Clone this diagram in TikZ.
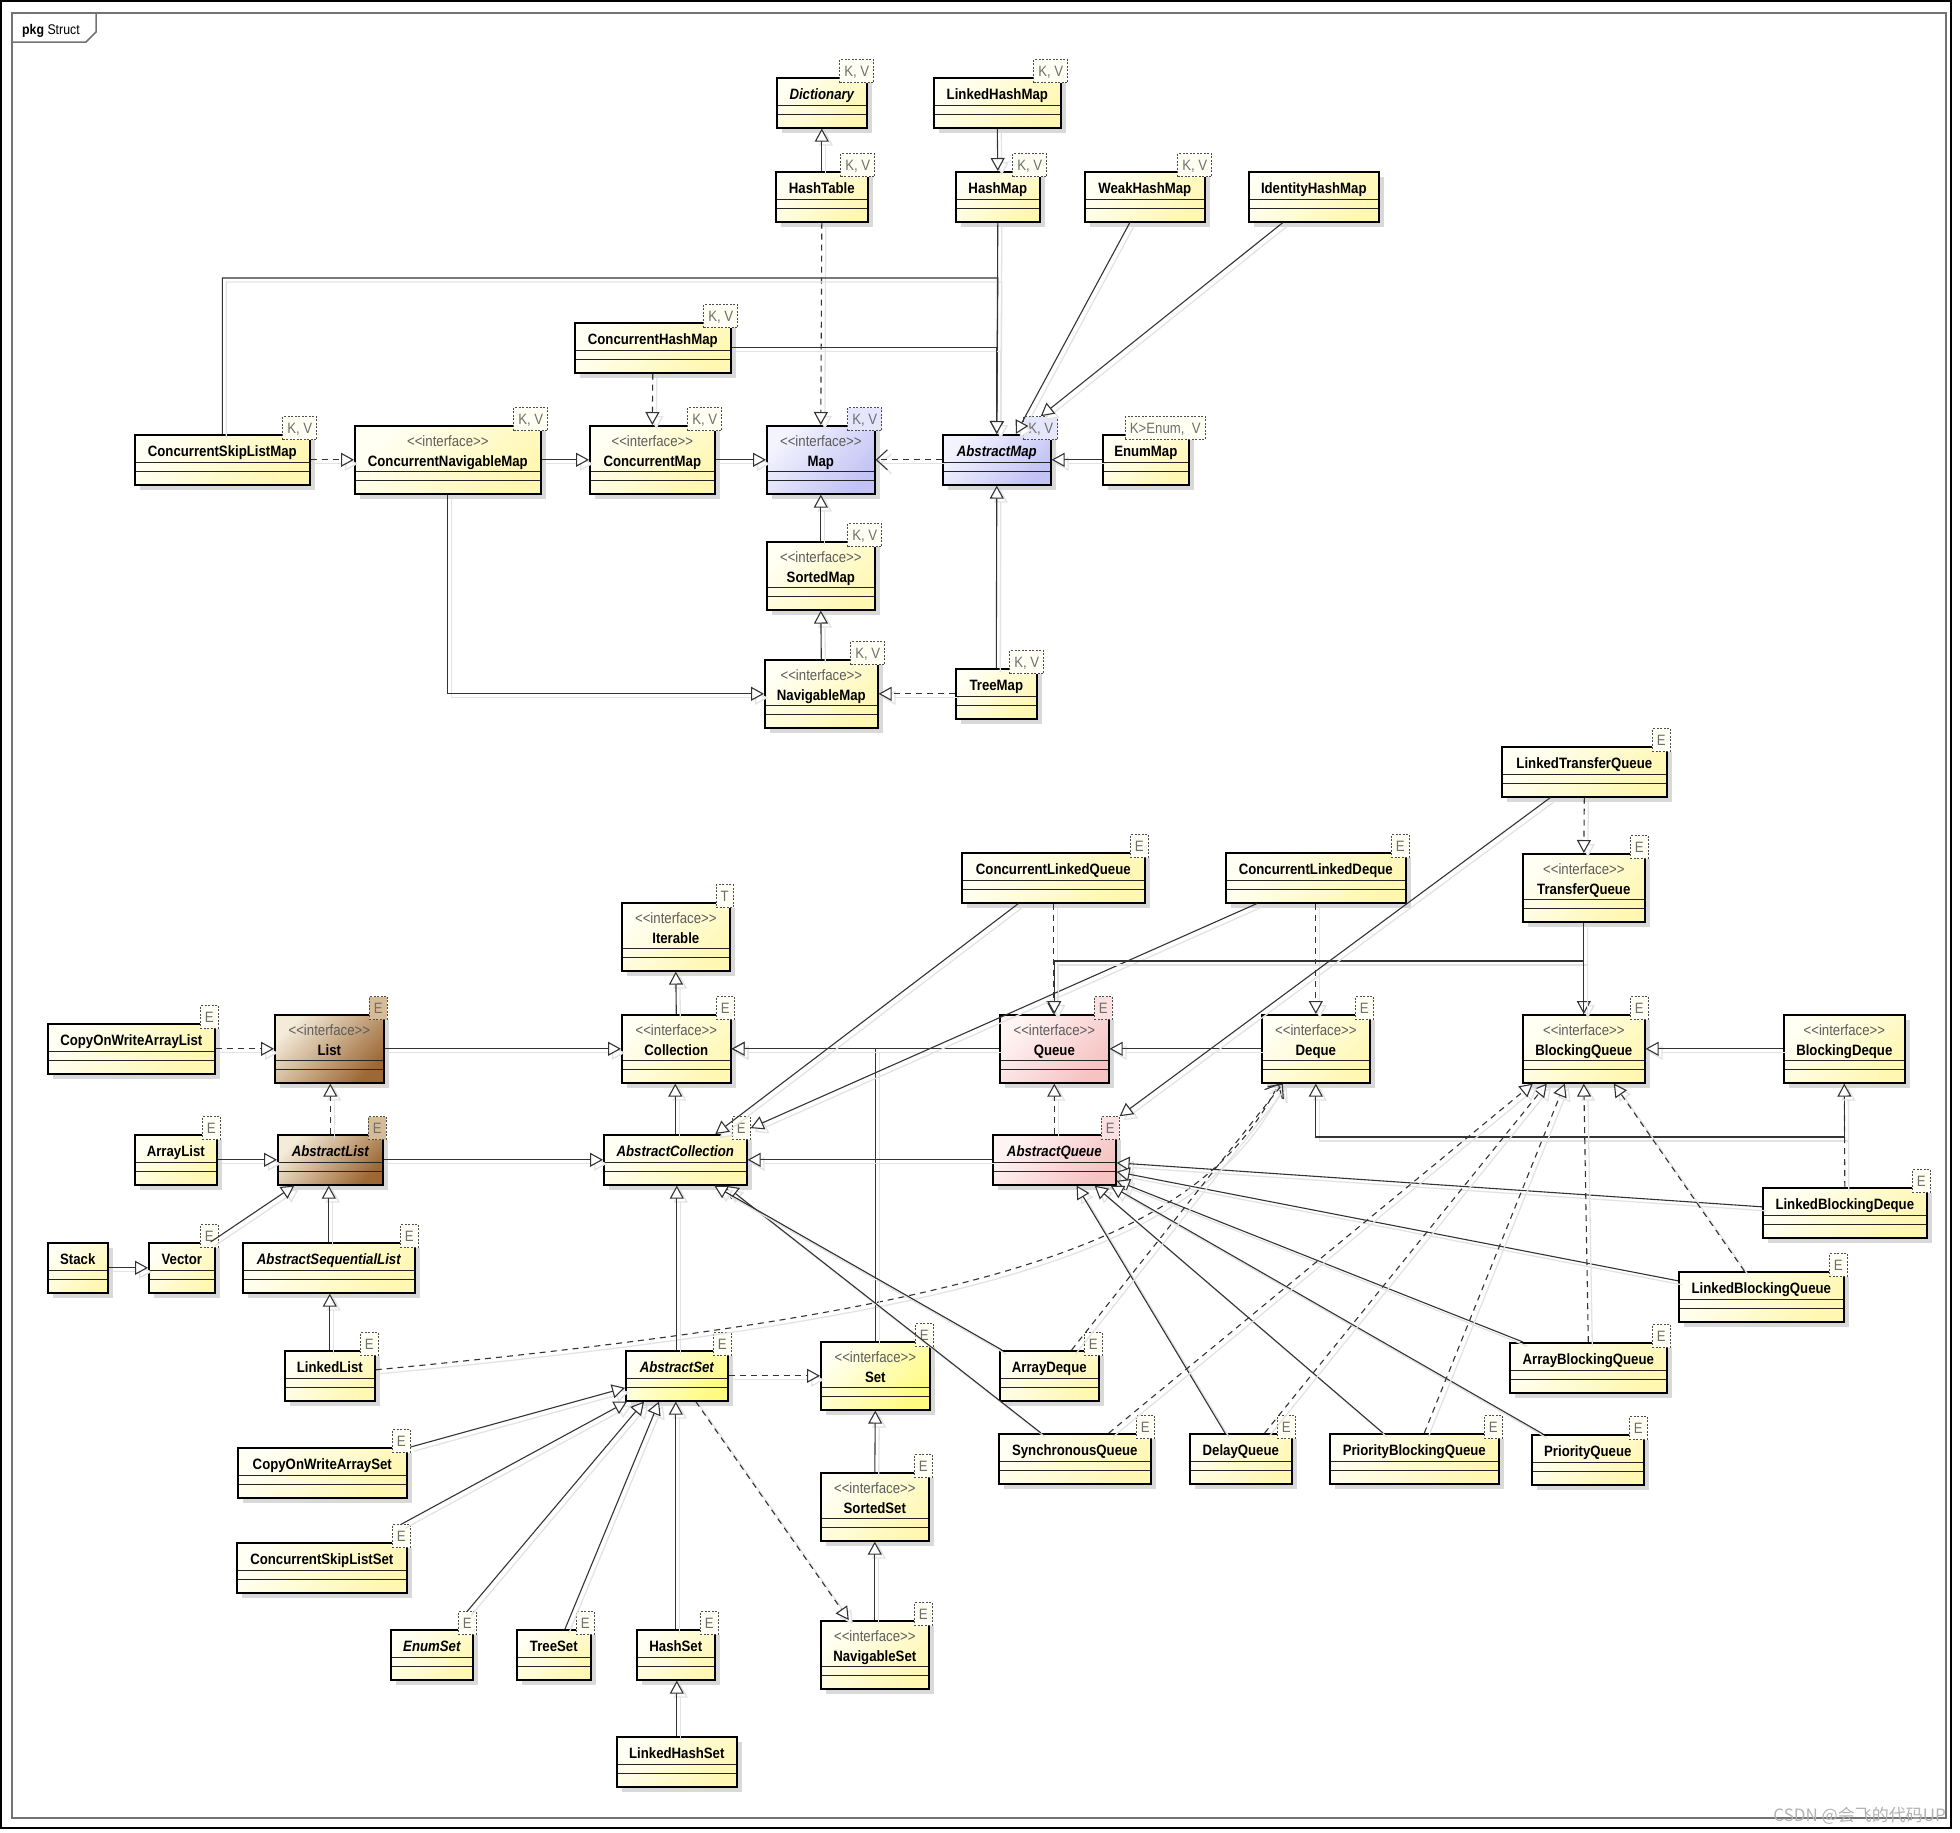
\documentclass[tikz,border=0pt]{standalone}
\usepackage{fontspec}
\newfontfamily\umlfont{Liberation Sans}[FakeStretch=0.88]
\newfontfamily\cjk{Noto Sans CJK SC}
\usepackage{tikz}
\usetikzlibrary{arrows.meta,shadows}
\definecolor{ylo}{HTML}{FFFFF4}
\definecolor{yhi}{HTML}{FFF7B2}
\definecolor{ydeep}{HTML}{FFFB80}
\definecolor{blo}{HTML}{F4F4FF}
\definecolor{bhi}{HTML}{C2C2F5}
\definecolor{plo}{HTML}{FFF4F4}
\definecolor{phi}{HTML}{F6C2C2}
\definecolor{brlo}{HTML}{F4EBD9}
\definecolor{brhi}{HTML}{9C6835}
\definecolor{brtpl}{HTML}{D6BC96}
\definecolor{ink}{HTML}{333333}
\definecolor{stereo}{HTML}{5C5C5C}
\definecolor{tplink}{HTML}{6E6E6E}
\newsavebox\ifbox
\newcommand\iface[1]{\sbox\ifbox{#1}\rlap{\hbox to\wd\ifbox{\hss\raisebox{20pt}{\mdseries\color{stereo}\textless\textless interface\textgreater\textgreater}\hss}}\usebox\ifbox}
\newcommand\tparam[3][]{\node[tpl,#1] (#2-p) at (#2.north east) {#3};}

\begin{document}
\begin{tikzpicture}[x=1pt,y=-1pt,
  cls/.style={rectangle,draw=black,line width=1.6pt,anchor=north west,inner sep=0pt,
    minimum height=50pt,text height=22pt,text depth=28pt,
    font=\umlfont\bfseries\fontsize{15}{18}\selectfont,
    left color=ylo,right color=yhi,shading angle=45,
    drop shadow={fill=black!15,opacity=1,shadow xshift=5pt,shadow yshift=-5pt},
    path picture={\draw[line width=1.1pt,black!85]
      ([yshift=22pt]path picture bounding box.south west) -- ([yshift=22pt]path picture bounding box.south east)
      ([yshift=13pt]path picture bounding box.south west) -- ([yshift=13pt]path picture bounding box.south east);}},
  ifc/.style={cls,minimum height=68pt,text height=41pt,text depth=27pt},
  bluecls/.style={left color=blo,right color=bhi,shading angle=45},
  pinkcls/.style={left color=plo,right color=phi,shading angle=45},
  browncls/.style={left color=brlo,right color=brhi,shading angle=45},
  deepcls/.style={left color=ylo,right color=ydeep,shading angle=45},
  tpl/.style={draw=black!70,dash pattern=on 2pt off 1.5pt,line width=.8pt,fill=ylo,
    anchor=south east,xshift=3pt,yshift=-6pt,inner xsep=4.5pt,inner ysep=0pt,
    text height=17pt,text depth=6pt,font=\umlfont\fontsize{15}{18}\selectfont,text=tplink},
  kv/.style={xshift=3.5pt},
  lsh/.style={preaction={draw=black!11,solid,line width=1.3pt,transform canvas={shift={(4pt,-4pt)}}}},
  gen/.style={lsh,draw=ink,line width=1.1pt,-{Triangle[length=13pt,width=14pt,fill=white]}},
  real/.style={gen,dash pattern=on 6pt off 5pt},
  dep/.style={lsh,draw=ink,line width=1.1pt,dash pattern=on 6pt off 5pt,-{Straight Barb[length=11pt,width=20pt]}}]
\useasboundingbox (0,0) rectangle (1960,1832);
\draw[line width=2.5pt] (1,1) rectangle (1951,1828);
\draw[black!55,line width=1.5pt] (12,13) rectangle (1946,1818);
\draw[black!55,line width=1.5pt] (12,42) -- (86,42) -- (96,32) -- (96,13);
\node[anchor=base west,inner sep=0pt,font=\umlfont\fontsize{14}{16}\selectfont] (pkgtab) at (22,34) {\textbf{pkg} Struct};

% Map hierarchy
\node[cls,minimum width=90pt] (dict) at (776,77) {\itshape Dictionary};
\node[cls,minimum width=127pt] (lhm) at (933,77) {LinkedHashMap};
\node[cls,minimum width=92pt] (htab) at (775,171) {HashTable};
\node[cls,minimum width=84pt] (hmap) at (955,171) {HashMap};
\node[cls,minimum width=120pt] (whm) at (1084,171) {WeakHashMap};
\node[cls,minimum width=130pt] (ihm) at (1248,171) {IdentityHashMap};
\node[cls,minimum width=156pt] (chm) at (574,322) {ConcurrentHashMap};
\node[cls,minimum width=175pt] (cslm) at (134,434) {ConcurrentSkipListMap};
\node[ifc,minimum width=186pt] (cnm) at (354,425) {\iface{ConcurrentNavigableMap}};
\node[ifc,minimum width=125pt] (cmap) at (589,425) {\iface{ConcurrentMap}};
\node[ifc,bluecls,minimum width=108pt] (map) at (766,425) {\iface{Map}};
\node[cls,bluecls,minimum width=108pt] (amap) at (942,434) {\itshape AbstractMap};
\node[cls,minimum width=86pt] (emap) at (1102,434) {EnumMap};
\node[ifc,minimum width=108pt] (smap) at (766,541) {\iface{SortedMap}};
\node[ifc,minimum width=113pt] (nmap) at (764,659) {\iface{NavigableMap}};
\node[cls,minimum width=81pt] (tmap) at (955,668) {TreeMap};
\tparam[kv]{dict}{K, V}
\tparam[kv]{lhm}{K, V}
\tparam[kv]{htab}{K, V}
\tparam[kv]{hmap}{K, V}
\tparam[kv]{whm}{K, V}
\tparam[kv]{chm}{K, V}
\tparam[kv]{cslm}{K, V}
\tparam[kv]{cnm}{K, V}
\tparam[kv]{cmap}{K, V}
\tparam[kv,fill=blo!70!bhi]{map}{K, V}
\tparam[kv,fill=blo!70!bhi]{amap}{K, V}
\tparam[xshift=13pt]{emap}{K>Enum,\ \ V}
\tparam[kv]{smap}{K, V}
\tparam[kv]{nmap}{K, V}
\tparam[kv]{tmap}{K, V}

% Collection, List and Set
\node[ifc,minimum width=108pt] (itbl) at (621,902) {\iface{Iterable}};
\node[ifc,minimum width=109pt] (coll) at (621,1014) {\iface{Collection}};
\node[ifc,browncls,minimum width=109pt] (list) at (274,1014) {\iface{List}};
\node[cls,minimum width=167pt] (cowal) at (47,1023) {CopyOnWriteArrayList};
\node[cls,minimum width=82pt] (alst) at (134,1134) {ArrayList};
\node[cls,browncls,minimum width=105pt] (alist) at (277,1134) {\itshape AbstractList};
\node[cls,minimum width=143pt] (acoll) at (603,1134) {\itshape AbstractCollection};
\node[cls,minimum width=60pt] (stack) at (47,1242) {Stack};
\node[cls,minimum width=66pt] (vect) at (148,1242) {Vector};
\node[cls,minimum width=172pt] (aslist) at (242,1242) {\itshape AbstractSequentialList};
\node[cls,minimum width=90pt] (llist) at (284,1350) {LinkedList};
\node[cls,deepcls,minimum width=102pt] (aset) at (625,1350) {\itshape AbstractSet};
\node[ifc,deepcls,minimum width=109pt] (set) at (820,1341) {\iface{Set}};
\node[ifc,minimum width=108pt] (sset) at (820,1472) {\iface{SortedSet}};
\node[ifc,minimum width=108pt] (nset) at (820,1620) {\iface{NavigableSet}};
\node[cls,minimum width=169pt] (cowas) at (237,1447) {CopyOnWriteArraySet};
\node[cls,minimum width=170pt] (csls) at (236,1542) {ConcurrentSkipListSet};
\node[cls,minimum width=82pt] (eset) at (390,1629) {\itshape EnumSet};
\node[cls,minimum width=74pt] (tset) at (516,1629) {TreeSet};
\node[cls,minimum width=78pt] (hset) at (636,1629) {HashSet};
\node[cls,minimum width=120pt] (lhset) at (616,1736) {LinkedHashSet};
\tparam{itbl}{T}
\tparam{coll}{E}
\tparam[fill=brtpl]{list}{E}
\tparam{cowal}{E}
\tparam{alst}{E}
\tparam[fill=brtpl]{alist}{E}
\tparam{acoll}{E}
\tparam{vect}{E}
\tparam{aslist}{E}
\tparam{llist}{E}
\tparam{aset}{E}
\tparam{set}{E}
\tparam{sset}{E}
\tparam{nset}{E}
\tparam{cowas}{E}
\tparam{csls}{E}
\tparam{eset}{E}
\tparam{tset}{E}
\tparam{hset}{E}

% Queue hierarchy
\node[cls,minimum width=183pt] (clq) at (961,852) {ConcurrentLinkedQueue};
\node[cls,minimum width=180pt] (cld) at (1225,852) {ConcurrentLinkedDeque};
\node[ifc,pinkcls,minimum width=109pt] (queue) at (999,1014) {\iface{Queue}};
\node[ifc,minimum width=108pt] (deque) at (1261,1014) {\iface{Deque}};
\node[cls,pinkcls,minimum width=123pt] (aqueue) at (992,1134) {\itshape AbstractQueue};
\node[cls,minimum width=165pt] (ltq) at (1501,746) {LinkedTransferQueue};
\node[ifc,minimum width=122pt] (tq) at (1522,853) {\iface{TransferQueue}};
\node[ifc,minimum width=122pt] (bq) at (1522,1014) {\iface{BlockingQueue}};
\node[ifc,minimum width=121pt] (bd) at (1783,1014) {\iface{BlockingDeque}};
\node[cls,minimum width=99pt] (adeq) at (999,1350) {ArrayDeque};
\node[cls,minimum width=152pt] (sq) at (998,1433) {SynchronousQueue};
\node[cls,minimum width=102pt] (dq) at (1189,1433) {DelayQueue};
\node[cls,minimum width=169pt] (pbq) at (1329,1433) {PriorityBlockingQueue};
\node[cls,minimum width=112pt] (pq) at (1531,1434) {PriorityQueue};
\node[cls,minimum width=157pt] (abq) at (1509,1342) {ArrayBlockingQueue};
\node[cls,minimum width=165pt] (lbq) at (1678,1271) {LinkedBlockingQueue};
\node[cls,minimum width=164pt] (lbd) at (1762,1187) {LinkedBlockingDeque};
\tparam{clq}{E}
\tparam{cld}{E}
\tparam[fill=plo!60!phi]{queue}{E}
\tparam{deque}{E}
\tparam[fill=plo!60!phi]{aqueue}{E}
\tparam{ltq}{E}
\tparam{tq}{E}
\tparam{bq}{E}
\tparam{adeq}{E}
\tparam{sq}{E}
\tparam{dq}{E}
\tparam{pbq}{E}
\tparam{pq}{E}
\tparam{abq}{E}
\tparam{lbq}{E}
\tparam{lbd}{E}

% map edges
\draw[gen] (htab.north) -- (dict.south);
\draw[gen] (lhm.south) -- (hmap.north);
\draw[real] (htab.south) -- (map.north);
\draw[gen] (hmap.south) -- (amap.north);
\draw[gen] ([xshift=-15pt]whm.south) -- ([xshift=19pt]amap.north);
\draw[gen] ([xshift=-31pt]ihm.south) -- (amap-p.north);
\draw[gen] (cslm.north) |- (hmap.south |- 0,278) -- (amap.north);
\draw[gen] (chm.east) -| (amap.north);
\draw[real] (chm.south) -- (cmap.north);
\draw[real] (cslm.east) -- (cnm.west);
\draw[gen] (cnm.east) -- (cmap.west);
\draw[gen] (cmap.east) -- (map.west);
\draw[dep] (amap.west) -- (map.east);
\draw[gen] (emap.west) -- (amap.east);
\draw[gen] (smap.north) -- (map.south);
\draw[gen] (nmap.north) -- (smap.south);
\draw[gen] (tmap.north) -- (amap.south);
\draw[real] (tmap.west) -- (nmap.east);
\draw[gen] (cnm.south) |- (nmap.west);

% collection edges
\draw[real] (cowal.east) -- (list.west);
\draw[gen] (list.east) -- (coll.west);
\draw[real] (alist.north) -- (alist.north |- list.south);
\draw[gen] (alst.east) -- (alist.west);
\draw[gen] (alist.east) -- (acoll.west);
\draw[gen] (coll.north) -- (itbl.south);
\draw[gen] (acoll.north) -- (acoll.north |- coll.south);
\draw[gen] (stack.east) -- (vect.west);
\draw[gen] ([xshift=-5pt]vect.north east) -- ([xshift=-36pt]alist.south);
\draw[gen] (aslist.north) -- (aslist.north |- alist.south);
\draw[gen] (llist.north) -- (llist.north |- aslist.south);
\draw[dep] ([yshift=6pt]llist.east) .. controls (1000,1310) and (1200,1240) .. ([xshift=-37pt]deque.south);
\draw[gen] (aset.north) -- (aset.north |- acoll.south);
\draw[real] (aset.east) -- (aset.east -| set.west);
\draw[gen] (set.north) |- (coll.east);
\draw[gen] (sset.north) -- (set.south);
\draw[gen] (nset.north) -- (sset.south);
\draw[real] ([xshift=19pt]aset.south) -- ([xshift=-26pt]nset.north);
\draw[gen] ([xshift=3pt]cowas.north east) -- ([yshift=-12pt]aset.west);
\draw[gen] (csls-p.north) -- ([xshift=2pt]aset.south west);
\draw[gen] (eset-p.north) -- ([xshift=19pt]aset.south west);
\draw[gen] ([xshift=49pt]tset.north west) -- ([xshift=34pt]aset.south west);
\draw[gen] (hset.north) -- (hset.north |- aset.south);
\draw[gen] (lhset.north) -- (lhset.north |- hset.south);

% queue edges
\draw[gen] (queue.west) -- (coll.east);
\draw[gen] (deque.west) -- (queue.east);
\draw[real] (aqueue.north) -- (queue.south);
\draw[gen] (aqueue.west) -- (acoll.east);
\draw[real] (clq.south) -- (clq.south |- queue.north);
\draw[gen] ([xshift=-35pt]clq.south) -- ([xshift=40pt]acoll.north);
\draw[real] (cld.south) -- (deque.north);
\draw[gen] ([xshift=-59pt]cld.south) -- (acoll-p.east);
\draw[real] (ltq.south) -- (tq.north);
\draw[gen] (tq.south) -- (bq.north);
\draw[gen] (bq.north) |- (queue.north |- 0,961) -- (queue.north);
\draw[gen] (bd.west) -- (bq.east);
\draw[gen] (bd.south) -- (bd.south |- 0,1137) -| (deque.south);
\draw[real] (lbd.north) -- (bd.south);
\draw[gen] ([yshift=6pt]lbd.west) -- ([yshift=-3pt]aqueue.east);
\draw[gen] ([yshift=16pt]lbq.west) -- ([yshift=-12pt]aqueue.east);
\draw[real] ([xshift=-17pt]lbq.north) -- ([xshift=30pt]bq.south);
\draw[real] (abq.north) -- (bq.south);
\draw[gen] ([xshift=14pt]abq.north west) -- ([yshift=-21pt]aqueue.east);
\draw[gen] ([xshift=12pt]pq.north west) -- ([xshift=-6pt]aqueue.south east);
\draw[gen] ([xshift=54pt]pbq.north west) -- ([xshift=-22pt]aqueue.south east);
\draw[real] ([xshift=10pt]pbq.north) -- ([xshift=-19pt]bq.south);
\draw[gen] ([xshift=36pt]dq.north west) -- ([xshift=-40pt]aqueue.south east);
\draw[real] ([xshift=-28pt]dq.north east) -- ([xshift=-37pt]bq.south);
\draw[gen] ([xshift=43pt]sq.north west) -- ([xshift=50pt]acoll.south);
\draw[real] ([xshift=34pt]sq.north) -- ([xshift=-51pt]bq.south);
\draw[gen] ([xshift=3pt]adeq.north west) -- ([xshift=39pt]acoll.south);
\draw[dep] ([xshift=-28pt]adeq.north east) -- ([xshift=-33pt]deque.south);
\draw[gen] ([xshift=-34pt]ltq.south) -- (aqueue-p.north east);

\node[anchor=base east,inner sep=0pt,text=black!30,font=\cjk\fontsize{17}{20}\selectfont] (mark) at (1946,1821) {CSDN @会飞的代码UP};
\end{tikzpicture}
\end{document}
